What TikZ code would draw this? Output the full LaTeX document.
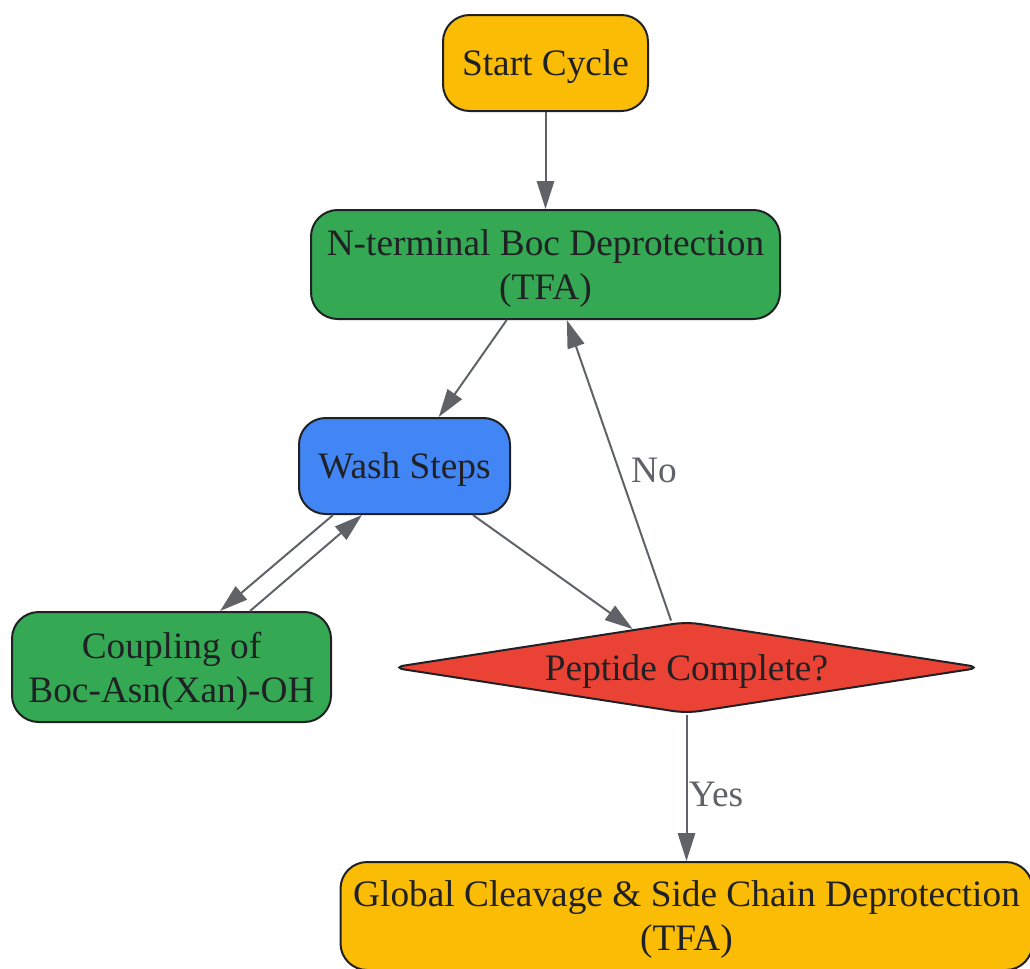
\documentclass[tikz,border=0pt]{standalone}
\usepackage{fontspec}
\setmainfont{Liberation Serif}
\usetikzlibrary{shapes.geometric,arrows.meta}
\definecolor{cyel}{HTML}{FBBC05}
\definecolor{cgrn}{HTML}{34A853}
\definecolor{cblu}{HTML}{4285F4}
\definecolor{cred}{HTML}{EA4335}
\definecolor{cline}{HTML}{5F6368}
\definecolor{ctxt}{HTML}{202124}
\tikzstyle{stepbox}=[draw=ctxt,line width=1.5pt,rounded corners=20pt,inner sep=0pt,text depth=-8pt,align=center,text=ctxt,font=\fontsize{28}{33}\selectfont]
\tikzstyle{stepy}=[stepbox,fill=cyel]
\tikzstyle{stepg}=[stepbox,fill=cgrn]
\tikzstyle{stepb}=[stepbox,fill=cblu]
\tikzstyle{decide}=[diamond,draw=ctxt,fill=cred,line width=1.5pt,rounded corners=10pt,inner sep=0pt,aspect=6.3,text depth=-8pt,text=ctxt,font=\fontsize{28}{33}\selectfont]
\tikzstyle{edge}=[draw=cline,line width=1.5pt,-{Triangle[length=21pt,width=13pt]}]
\tikzstyle{elabel}=[text=cline,font=\fontsize{28}{33}\selectfont]

\begin{document}
\begin{tikzpicture}[x=0.75pt,y=-0.75pt]
    \useasboundingbox (0,0) rectangle (1030,968);
    \node[stepy,minimum width=153.75pt,minimum height=72pt] (start) at (545.5,63) {Start Cycle};
    \node[stepg,minimum width=351.75pt,minimum height=81.75pt] (nterm) at (545.5,264.5) {N-terminal Boc Deprotection\\(TFA)};
    \node[stepb,minimum width=158.25pt,minimum height=72pt] (wash) at (404.5,466) {Wash Steps};
    \node[stepg,minimum width=239.25pt,minimum height=82.5pt] (coupl) at (171.5,667) {Coupling of\\Boc-Asn(Xan)-OH};
    \node[decide,minimum width=443pt,minimum height=69pt] (check) at (686.5,667.5) {Peptide Complete?};
    \node[stepy,minimum width=519pt,minimum height=81pt] (cleave) at (686.5,916) {Global Cleavage \& Side Chain Deprotection\\(TFA)};

    \foreach \from/\to in {start/nterm,nterm/wash,wash/check}
    \draw[edge] (\from) -- (\to);
    \draw[edge] ([xshift=-53.6pt]wash.south) -- ([xshift=36.4pt]coupl.north);
    \draw[edge] ([xshift=58.9pt]coupl.north) -- ([xshift=-31.9pt]wash.south);
    \draw[edge] ([xshift=-11.6pt]check.north) -- node[elabel,midway,right,xshift=5pt] {No} ([xshift=16pt]nterm.south);
    \draw[edge] (check.south) -- node[elabel,midway,right,inner sep=1pt,yshift=-5pt] {Yes} (cleave.north);
\end{tikzpicture}
\end{document}
